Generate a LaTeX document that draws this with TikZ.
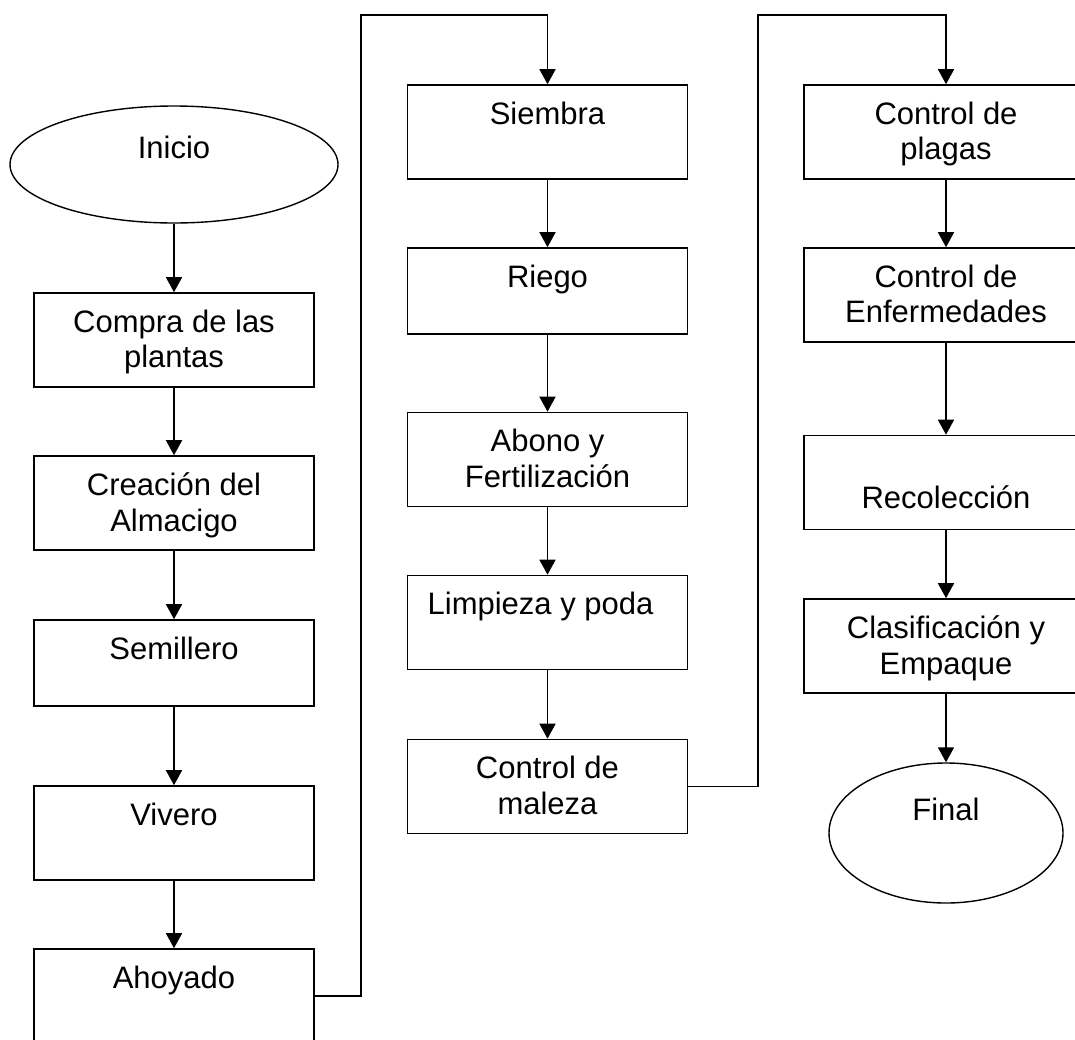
\documentclass[tikz,border=0pt]{standalone}
\usepackage{fontspec}
\setmainfont{Liberation Sans}
\usetikzlibrary{shapes.geometric,arrows.meta}

\tikzset{
  texto/.style={anchor=north,align=center,inner sep=0pt,font=\fontsize{31}{35.5}\selectfont},
  caja/.style={draw,line width=1.6pt,minimum width=280pt,minimum height=94pt,inner sep=0pt},
  paso/.style={caja,label={[texto,yshift=-17.5pt]north:#1}},
  elipse/.style={draw,ellipse,line width=1.4pt,inner sep=0pt},
  flecha/.style={line width=1.6pt,-{Triangle[width=16pt,length=15pt]}}
}

\begin{document}
\begin{tikzpicture}[x=1pt,y=-1pt]
\useasboundingbox (0,0) rectangle (1075,1039);
\clip (0,0) rectangle (1075,1039);

\node[elipse,minimum width=328pt,minimum height=117pt,label={[texto,yshift=-30.5pt]north:Inicio}] (inicio) at (174,164.5) {};
\node[paso={Compra de las\\plantas}] (compra) at (174,340) {};
\node[paso={Creación del\\Almacigo}] (creacion) at (174,503) {};
\node[paso=Semillero,minimum height=86pt] (semillero) at (174,663) {};
\node[paso=Vivero] (vivero) at (174,833) {};
\node[paso=Ahoyado] (ahoyado) at (174,996) {};

\node[paso=Siembra] (siembra) at (547.5,132) {};
\node[paso=Riego,minimum height=86pt] (riego) at (547.5,291) {};
\node[paso={Abono y\\Fertilización}] (abono) at (547.5,459.5) {};
\node[caja,label={[texto,xshift=-7pt,yshift=-17.5pt]north:Limpieza y poda}] (limpieza) at (547.5,622.5) {};
\node[paso={Control de\\maleza}] (maleza) at (547.5,786.5) {};

\node[paso={Control de\\plagas},minimum width=284pt] (plagas) at (946,132) {};
\node[paso={Control de\\Enfermedades},minimum width=284pt] (enfermedades) at (946,295) {};
\node[caja,minimum width=284pt,label={[texto,yshift=-50.5pt]north:Recolección}] (recoleccion) at (946,482.5) {};
\node[paso={Clasificación y\\Empaque},minimum width=284pt] (clasificacion) at (946,646) {};
\node[elipse,minimum width=234pt,minimum height=140pt,label={[texto,yshift=-36pt]north:Final}] (final) at (946,833) {};

\coordinate (subida1) at (361,15);
\coordinate (subida2) at (758,15);

\draw[flecha] (inicio) -- (compra);
\draw[flecha] (compra) -- (creacion);
\draw[flecha] (creacion) -- (semillero);
\draw[flecha] (semillero) -- (vivero);
\draw[flecha] (vivero) -- (ahoyado);
\draw[flecha] (ahoyado.east) -| (subida1) -| (siembra.north);
\draw[flecha] (siembra) -- (riego);
\draw[flecha] (riego) -- (abono);
\draw[flecha] (abono) -- (limpieza);
\draw[flecha] (limpieza) -- (maleza);
\draw[flecha] (maleza.east) -| (subida2) -| (plagas.north);
\draw[flecha] (plagas) -- (enfermedades);
\draw[flecha] (enfermedades) -- (recoleccion);
\draw[flecha] (recoleccion) -- (clasificacion);
\draw[flecha] (clasificacion) -- (final);
\end{tikzpicture}
\end{document}
